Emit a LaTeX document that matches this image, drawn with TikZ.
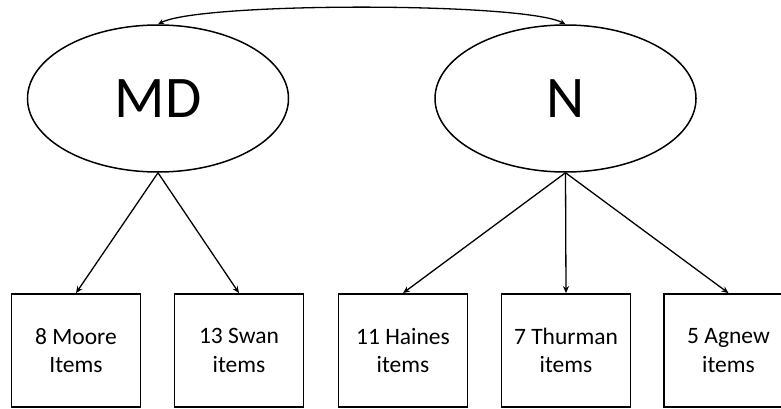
\documentclass[tikz,border=0pt]{standalone}
\usepackage{fontspec}
\setmainfont{Carlito}
\usetikzlibrary{arrows.meta,shapes.geometric}
\begin{document}
\begin{tikzpicture}[x=1pt,y=-1pt,
  latent/.style={draw,line width=1.5pt,ellipse,minimum width=261pt,minimum height=147pt,inner sep=0pt,font=\fontsize{59}{62}\selectfont},
  itembox/.style={draw,line width=1.8pt,minimum width=129pt,minimum height=113pt,inner sep=0pt,align=center,font=\fontsize{23.5}{28.5}\selectfont},
  arr/.style={line width=1.3pt,-{Stealth[length=7pt,width=6pt]}},
  cov/.style={line width=1.3pt,{Stealth[length=6pt,width=5pt]}-{Stealth[length=6pt,width=5pt]}}]
\useasboundingbox (0,0) rectangle (781,409);
\node[latent] (md) at (158,98.5) {MD};
\node[latent] (n) at (565.5,98.5) {N};
\node[itembox] (b1) at (76,350.5) {8 Moore\\Items};
\node[itembox] (b2) at (239,350.5) {13 Swan\\items};
\node[itembox] (b3) at (403,350.5) {11 Haines\\items};
\node[itembox] (b4) at (566,350.5) {7 Thurman\\items};
\node[itembox] (b5) at (728.5,350.5) {5 Agnew\\items};
\draw[cov] (md.north) .. controls (200,2) and (523,2) .. (n.north);
\draw[arr] (md.south) -- (b1.north);
\draw[arr] (md.south) -- (b2.north);
\draw[arr] (n.south) -- (b3.north);
\draw[arr] (n.south) -- (b4.north);
\draw[arr] (n.south) -- (b5.north);
\end{tikzpicture}
\end{document}
